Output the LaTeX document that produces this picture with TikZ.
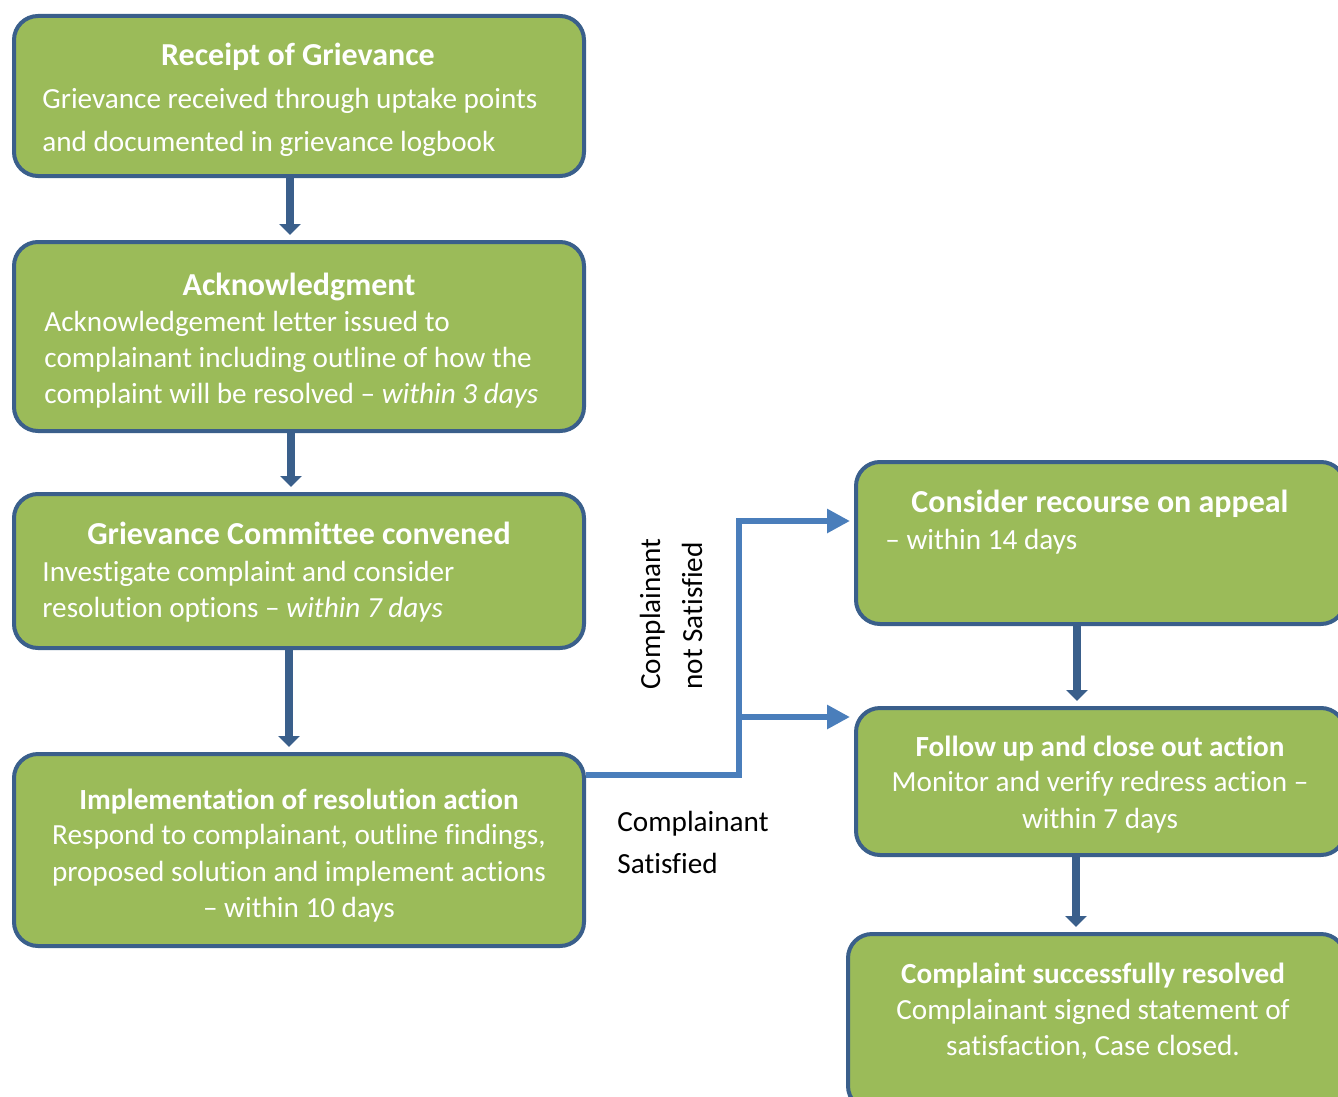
\documentclass[tikz,border=0pt]{standalone}
\usepackage{fontspec}
\setmainfont[Ligatures=NoCommon]{Carlito}
\usetikzlibrary{arrows.meta}
\definecolor{boxgreen}{HTML}{9BBB59}
\definecolor{boxblue}{HTML}{3A5F8B}
\definecolor{linkblue}{HTML}{4A7EBB}

\begin{document}
\begin{tikzpicture}[x=0.5pt, y=-0.5pt,
    stage/.style={draw=boxblue, fill=boxgreen, line width=2pt, rounded corners=12pt, inner sep=0pt},
    txt/.style={text=white, font=\fontsize{14.6}{18}\selectfont, inner sep=0pt},
    head/.style={text=white, font=\fontsize{16}{18}\selectfont\bfseries, inner sep=0pt},
    lbl/.style={text=black, font=\fontsize{14.6}{18}\selectfont, inner sep=0pt},
    down/.style={draw=boxblue, line width=4pt, -{Triangle[width=10.5pt,length=5.5pt]}, shorten >=2.5pt},
    link/.style={draw=linkblue, line width=3pt, -{Triangle[width=11.5pt,length=11.5pt]}, shorten >=2pt}
]
            \useasboundingbox (0,0) rectangle (1338,1097);
            \clip (0,0) rectangle (1338,1097);

            % left column
            \node[stage, minimum width=285pt, minimum height=80pt] (r1) at (299,96) {};
            \node[head, anchor=base] (t1) at (298,66) {Receipt of Grievance};
            \node[txt, anchor=base west] (t1a) at (42,109) {Grievance received through uptake points};
            \node[txt, anchor=base west] (t1b) at (42,151) {and documented in grievance logbook};

            \node[stage, minimum width=285pt, minimum height=94.5pt] (r2) at (299,336.5) {};
            \node[head, anchor=base] (t2) at (299,295) {Acknowledgment};
            \node[txt, anchor=base west] (t2a) at (44,331) {Acknowledgement letter issued to};
            \node[txt, anchor=base west] (t2b) at (44,367) {complainant including outline of how the};
            \node[txt, anchor=base west] (t2c) at (44,403) {complaint will be resolved – \textit{within 3 days}};

            \node[stage, minimum width=285pt, minimum height=77pt] (r3) at (299,571) {};
            \node[head, anchor=base] (t3) at (299,544) {Grievance Committee convened};
            \node[txt, anchor=base west] (t3a) at (42,581) {Investigate complaint and consider};
            \node[txt, anchor=base west] (t3b) at (42,617) {resolution options – \textit{within 7 days}};

            \node[stage, minimum width=285pt, minimum height=96pt] (r4) at (299,850) {};
            \node[txt, anchor=base] (t4) at (299,809) {\bfseries Implementation of resolution action};
            \node[txt, anchor=base] (t4a) at (299,844) {Respond to complainant, outline findings,};
            \node[txt, anchor=base] (t4b) at (299,881) {proposed solution and implement actions};
            \node[txt, anchor=base] (t4c) at (299,917) {– within 10 days};

            % right column
            \node[stage, minimum width=244.5pt, minimum height=81pt] (r5) at (1100.5,543) {};
            \node[head, anchor=base] (t5) at (1100,512) {Consider recourse on appeal};
            \node[txt, anchor=base west] (t5a) at (885,549) {– within 14 days};

            \node[stage, minimum width=244.5pt, minimum height=73.5pt] (r6) at (1100.5,781.5) {};
            \node[txt, anchor=base] (t6) at (1100,756) {\bfseries Follow up and close out action};
            \node[txt, anchor=base] (t6a) at (1100,791) {Monitor and verify redress action –};
            \node[txt, anchor=base] (t6b) at (1100,828) {within 7 days};

            \node[stage, minimum width=248.5pt, minimum height=88pt] (r7) at (1096.5,1022) {};
            \node[txt, anchor=base] (t7) at (1093,983) {\bfseries Complaint successfully resolved};
            \node[txt, anchor=base] (t7a) at (1093,1019) {Complainant signed statement of};
            \node[txt, anchor=base] (t7b) at (1093,1055) {satisfaction, Case closed.};

            % downward steps
            \draw[down] (r1.south -| 290,0) -- (r2.north -| 290,0);
            \draw[down] (r2.south -| 291,0) -- (r3.north -| 291,0);
            \draw[down] (r3.south -| 289,0) -- (r4.north -| 289,0);
            \draw[down] (r5.south -| 1077,0) -- (r6.north -| 1077,0);
            \draw[down] (r6.south -| 1076,0) -- (r7.north -| 1076,0);

            % outcome of resolution
            \coordinate (top) at (739,521);
            \coordinate (fork) at (739,717);
            \coordinate (bend) at (739,775);
            \draw[link] (r4.east |- bend) -- (bend) -- (top) -- (r5.west |- top);
            \draw[link] (fork) -- (r6.west |- fork);

            \node[lbl, rotate=90, anchor=base west] (ns1) at (660,690) {Complainant};
            \node[lbl, rotate=90, anchor=base west] (ns2) at (702,690) {not Satisfied};
            \node[lbl, anchor=base west] (s1) at (617,831) {Complainant};
            \node[lbl, anchor=base west] (s2) at (617,873) {Satisfied};
        \end{tikzpicture}
\end{document}
